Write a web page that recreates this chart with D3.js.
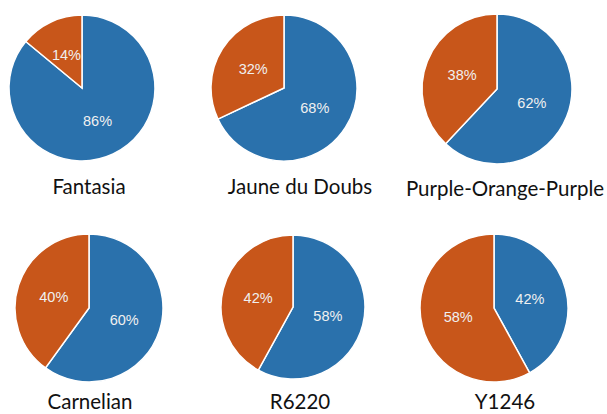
<!DOCTYPE html>
<html>
<head>
<meta charset="utf-8">
<script src="https://cdnjs.cloudflare.com/ajax/libs/d3/7.8.5/d3.min.js"></script>
<style>
  body { margin: 0; background: #fff; }
  svg { display: block; }
</style>
</head>
<body>
<div id="vis"></div>
<script>
// data
var varieties = ["Fantasia", "Jaune du Doubs", "Purple-Orange-Purple", "Carnelian", "R6220", "Y1246"];
var blueShare = [86, 68, 62, 60, 58, 42];
var orangeShare = [14, 32, 38, 40, 42, 58];

var width = 607, height = 414;
var colors = ["#2a71ac", "#c8561a"];

// rough pie centres / radii
var centers = [[82, 88, 73], [284, 88, 73], [497, 89, 75],
               [89, 308, 74], [293, 307, 72], [494, 308, 74]];
var labelPos = [[89, 194], [300, 194], [505, 196],
                [90, 409], [300, 409], [505, 409]];

var svg = d3.select("#vis")
    .append("svg")
    .attr("width", width)
    .attr("height", height);

var pie = d3.pie().sort(null).value(d => d);

varieties.forEach(function (name, i) {
    var c = centers[i];
    var arc = d3.arc().innerRadius(0).outerRadius(c[2]);
    var g = svg.append("g")
        .attr("transform", "translate(" + c[0] + "," + c[1] + ")");

    var arcs = pie([blueShare[i], orangeShare[i]]);

    g.selectAll("path")
        .data(arcs)
        .enter()
        .append("path")
        .attr("d", arc)
        .attr("fill", (d, j) => colors[j])
        .attr("stroke", "#fff")
        .attr("stroke-width", 1.5);

    g.selectAll("text")
        .data(arcs)
        .enter()
        .append("text")
        .attr("transform", d => "translate(" + arc.centroid(d) + ")")
        .attr("text-anchor", "middle")
        .attr("dy", "0.35em")
        .attr("fill", "#f0f0f0")
        .style("font-family", "'Liberation Sans', Arial, sans-serif")
        .style("font-size", "14.5px")
        .text(d => d.data + "%");

    svg.append("text")
        .attr("x", labelPos[i][0])
        .attr("y", labelPos[i][1])
        .attr("text-anchor", "middle")
        .attr("fill", "#111")
        .style("font-family", "Lato, 'Open Sans', sans-serif")
        .style("font-size", "20.5px")
        .text(name);
});
</script>
</body>
</html>
